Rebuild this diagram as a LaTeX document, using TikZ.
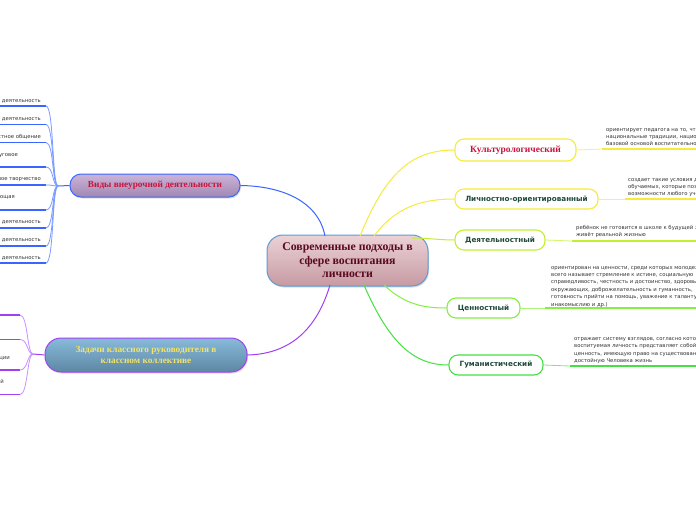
\documentclass[tikz,border=0pt]{standalone}
\usepackage{fontspec}
\setmainfont{DejaVu Sans}
\newfontfamily\serifbf{Liberation Serif}
\usetikzlibrary{shadows,calc}
\definecolor{cTop}{HTML}{EBD2D6}
\definecolor{cBot}{HTML}{C69AA3}
\definecolor{cBorder}{HTML}{5B9BD5}
\definecolor{cText}{HTML}{5A0A1E}
\definecolor{vTop}{HTML}{CDB3D8}
\definecolor{vBot}{HTML}{A088B2}
\definecolor{vBorder}{HTML}{3A66FF}
\definecolor{crimson}{HTML}{C8143C}
\definecolor{zTop}{HTML}{88BADA}
\definecolor{zBot}{HTML}{5D87A3}
\definecolor{zBorder}{HTML}{A040F0}
\definecolor{zText}{HTML}{F2E46A}
\definecolor{yel}{HTML}{F5EB3C}
\definecolor{lime}{HTML}{C2F02E}
\definecolor{grA}{HTML}{86EE44}
\definecolor{grB}{HTML}{44E044}
\definecolor{dgreen}{HTML}{1F4A3A}
\definecolor{lblue}{HTML}{7A9CFF}
\definecolor{lpurple}{HTML}{C890FF}
\definecolor{txt}{HTML}{333333}
\begin{document}
\begin{tikzpicture}[x=1pt,y=-1pt,
  centerbox/.style={rounded corners=16pt, draw=cBorder, line width=1pt, top color=cTop, bottom color=cBot,
    minimum width=161pt, minimum height=51pt, align=center,
    font=\serifbf\bfseries\fontsize{11.8}{13.5}\selectfont, text=cText,
    drop shadow={opacity=0.25, shadow xshift=1pt, shadow yshift=-1.5pt}},
  vidybox/.style={rounded corners=11pt, draw=vBorder, line width=1pt, top color=vTop, bottom color=vBot,
    minimum width=170pt, minimum height=23pt, text=crimson,
    font=\serifbf\bfseries\fontsize{9.3}{10.5}\selectfont,
    drop shadow={opacity=0.25, shadow xshift=1pt, shadow yshift=-1.5pt}},
  zadbox/.style={rounded corners=16pt, draw=zBorder, line width=1pt, top color=zTop, bottom color=zBot,
    minimum width=202pt, minimum height=34pt, align=center, text=zText,
    font=\serifbf\bfseries\fontsize{9.3}{11}\selectfont,
    drop shadow={opacity=0.25, shadow xshift=1pt, shadow yshift=-1.5pt}},
  rbox/.style={rounded corners=9pt, line width=1.1pt, fill=white, minimum height=20pt,
    text=dgreen, font=\bfseries\fontsize{7.2}{8}\selectfont},
  note/.style={inner sep=0pt, align=left, text=txt, font=\fontsize{5.3}{7.4}\selectfont, anchor=north west},
  lnote/.style={inner sep=0pt, align=left, text=txt, font=\fontsize{5.3}{7.4}\selectfont, anchor=north east},
  thin/.style={line width=0.8pt},
  uline/.style={line width=1.8pt}
]
\useasboundingbox (0,0) rectangle (696,520);
\fill[white] (0,0) rectangle (696,520);

% ---------- connector end points on the centre node ----------
\coordinate (cB) at (325,236);
\coordinate (cY1) at (360,236);
\coordinate (cY2) at (374,236);
\coordinate (cL) at (412,238);
\coordinate (cG1) at (384,285);
\coordinate (cG2) at (364,285);
\coordinate (cP) at (330,285);

% ---------- nodes ----------
\node[centerbox] (c) at (347.5,260.5) {Современные подходы в\\сфере воспитания\\личности};
\node[vidybox] (vid) at (155,185.5) {Виды внеурочной деятельности};
\node[zadbox] (zad) at (146,355) {Задачи классного руководителя в\\классном коллективе};

\node[rbox, draw=yel, minimum width=121pt, text=crimson, font=\serifbf\bfseries\fontsize{9.5}{10}\selectfont, minimum height=22pt] (k) at (515.5,150) {Культурологический};
\node[rbox, draw=yel, minimum width=143pt] (l) at (526.5,199) {Личностно-ориентированный};
\node[rbox, draw=lime, minimum width=90pt] (d) at (500,240) {Деятельностный};
\node[rbox, draw=grA, minimum width=73pt] (ts) at (483.5,308) {Ценностный};
\node[rbox, draw=grB, minimum width=94pt] (g) at (496,365) {Гуманистический};

% ---------- main connectors ----------
\draw[vBorder, line width=1pt] (cB) .. controls (318,200) and (280,186) .. (vid.east);
\draw[zBorder, line width=1pt] (cP) .. controls (315,335) and (285,354) .. (zad.east);
\draw[yel, line width=1pt] (cY1) .. controls (385,175) and (410,150) .. (k.west);
\draw[yel, line width=1pt] (cY2) .. controls (395,208) and (420,199) .. (l.west);
\draw[lime, line width=1pt] (cL) .. controls (428,238) and (440,240) .. (d.west);
\draw[grA, line width=1pt] (cG1) .. controls (405,305) and (425,308) .. (ts.west);
\draw[grB, line width=1pt] (cG2) .. controls (390,345) and (415,365) .. (g.west);

% ---------- right annotations ----------
\coordinate (ku) at (602,149);  \coordinate (ke) at (700,149);
\draw[yel!70, thin] (k.east) -- (ku);
\draw[yel, uline] (ku) -- (ke);
\node[note] (kt) at (606,128) {ориентирует педагога на то, что национальная культура и\\национальные традиции, национальные ценности являются\\базовой основой воспитательной системы школы};

\coordinate (lu) at (625,199);  \coordinate (le) at (700,199);
\draw[yel!70, thin] (l.east) -- (lu);
\draw[yel, uline] (lu) -- (le);
\node[note] (lt) at (628,178) {создает такие условия для развития\\обучаемых, которые позволяют раскрыть\\возможности любого ученика};

\coordinate (du) at (572,241);  \coordinate (de) at (700,241);
\draw[lime!70, thin] (d.east) -- (du);
\draw[lime, uline] (du) -- (de);
\node[note] (dt) at (576,225) {ребёнок не готовится в школе к будущей жизни, а\\живёт реальной жизнью};

\coordinate (tu) at (545,308);  \coordinate (te) at (700,308);
\draw[grA!70, thin] (ts.east) -- (tu);
\draw[grA, uline] (tu) -- (te);
\node[note] (tt) at (551,266) {ориентирован на ценности, среди которых молодежь прежде\\всего называет стремление к истине, социальную\\справедливость, честность и достоинство, здоровье\\окружающих, доброжелательность и гуманность,\\готовность прийти на помощь, уважение к таланту,\\инакомыслию и др.)};

\coordinate (gu) at (570,366);  \coordinate (ge) at (700,366);
\draw[grB!70, thin] (g.east) -- (gu);
\draw[grB, uline] (gu) -- (ge);
\node[note] (gt) at (574,336) {отражает систему взглядов, согласно которой\\воспитуемая личность представляет собой\\ценность, имеющую право на существование,\\достойную Человека жизнь};

% ---------- left: types of activity ----------
\coordinate (vj) at (58,186);
\draw[vBorder, line width=1pt] (vj) -- (vid.west);
\foreach \yy/\nm in {106/a1,124.5/a2,142.5/a3,167/a4,185/a5,210/a6,228/a7,246/a8,263/a9}{
  \coordinate (\nm e) at (46,\yy);
  \coordinate (\nm s) at (-3,\yy);
  \draw[vBorder, uline] (\nm s) -- (\nm e);
  \draw[lblue, thin] (\nm e) .. controls (54,\yy) and (52,186) .. (vj);
}
\node[lnote] (t1) at (41,98) {Игровая деятельность};
\node[lnote] (t2) at (41,116) {Познавательная деятельность};
\node[lnote] (t3) at (41,134) {Проблемно-ценностное общение};
\node[lnote] (t4) at (18,152) {Досугово-развлекательная деятельность (досуговое\\общение)};
\node[lnote] (t5) at (41,176) {Художественное творчество};
\node[lnote] (t6) at (15,194) {Социальное творчество (социально преобразующая\\добровольческая деятельность)};
\node[lnote] (t7) at (41,219) {Трудовая (производственная) деятельность};
\node[lnote] (t8) at (41,237) {Спортивно-оздоровительная деятельность};
\node[lnote] (t9) at (41,255) {Туристско-краеведческая деятельность};

% ---------- left: tasks ----------
\coordinate (zj) at (33,354);
\draw[zBorder, line width=1pt] (zj) -- (zad.west);
\foreach \yy/\nm in {315/b1,339.5/b2,370/b3,394.5/b4}{
  \coordinate (\nm e) at (20,\yy);
  \coordinate (\nm s) at (-3,\yy);
  \draw[zBorder, uline] (\nm s) -- (\nm e);
  \draw[lpurple, thin] (\nm e) .. controls (28,\yy) and (27,354) .. (zj);
}
\node[lnote] (u3) at (10,355) {Формирование гражданской позиции\\у учащихся};
\node[lnote] (u4) at (4,379) {Развитие творческих способностей\\учащихся};
\end{tikzpicture}
\end{document}
